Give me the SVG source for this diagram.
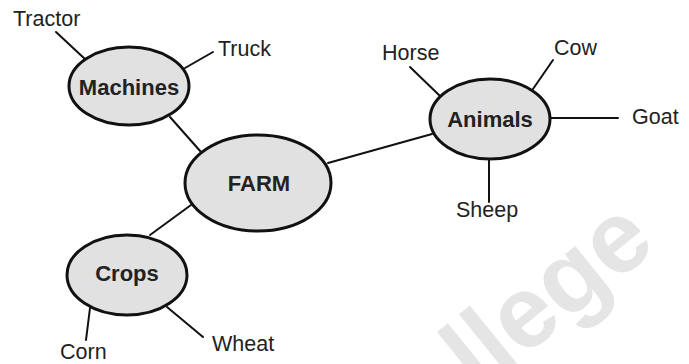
<svg xmlns="http://www.w3.org/2000/svg" width="689" height="364" viewBox="0 0 689 364">
  <style>
    .hub { fill: #e1e1e1; stroke: #111; stroke-width: 3; }
    .hub-label { font-family: "Liberation Sans", Arial, sans-serif; font-weight: bold; font-size: 22px; fill: #222; text-anchor: middle; }
    .leaf { font-family: "Liberation Sans", Arial, sans-serif; font-size: 21.5px; fill: #222; }
    .link { stroke: #111; stroke-width: 2; fill: none; stroke-linecap: round; }
    .mark { font-family: "Liberation Sans", Arial, sans-serif; font-weight: bold; font-size: 102px; fill: #e5e5e5; }
  </style>
  <rect width="689" height="364" fill="#ffffff"/>

  <!-- faint background lettering -->
  <text class="mark" transform="translate(478,394) rotate(-39)">llege</text>

  <g id="connectors">
    <line class="link" x1="56" y1="32" x2="86" y2="60"/>
    <line class="link" x1="213" y1="52" x2="185" y2="68"/>
    <line class="link" x1="170" y1="117" x2="201" y2="152"/>
    <line class="link" x1="150" y1="235" x2="191" y2="205"/>
    <line class="link" x1="328" y1="163" x2="432" y2="134"/>
    <line class="link" x1="410" y1="67" x2="440" y2="96"/>
    <line class="link" x1="553" y1="60" x2="533" y2="89"/>
    <line class="link" x1="551" y1="118" x2="618" y2="118"/>
    <line class="link" x1="489" y1="160" x2="489" y2="202"/>
    <line class="link" x1="90" y1="308" x2="86" y2="340"/>
    <line class="link" x1="167" y1="307" x2="203" y2="337"/>
  </g>

  <g id="farm">
    <ellipse class="hub" cx="258" cy="183" rx="73" ry="48"/>
    <text class="hub-label" x="259" y="191">FARM</text>
  </g>

  <g id="machines">
    <ellipse class="hub" cx="129" cy="86" rx="60" ry="39"/>
    <text class="hub-label" x="129" y="95">Machines</text>
  </g>

  <g id="animals">
    <ellipse class="hub" cx="490" cy="119" rx="60" ry="40"/>
    <text class="hub-label" x="490" y="127">Animals</text>
  </g>

  <g id="crops">
    <ellipse class="hub" cx="127" cy="275" rx="60" ry="40"/>
    <text class="hub-label" x="127" y="281">Crops</text>
  </g>

  <g id="tractor"><text class="leaf" x="13" y="26">Tractor</text></g>
  <g id="truck"><text class="leaf" x="218" y="56">Truck</text></g>
  <g id="horse"><text class="leaf" x="382" y="60">Horse</text></g>
  <g id="cow"><text class="leaf" x="554" y="55">Cow</text></g>
  <g id="goat"><text class="leaf" x="632" y="124">Goat</text></g>
  <g id="sheep"><text class="leaf" x="456" y="217">Sheep</text></g>
  <g id="corn"><text class="leaf" x="60" y="359">Corn</text></g>
  <g id="wheat"><text class="leaf" x="212" y="351">Wheat</text></g>
</svg>
